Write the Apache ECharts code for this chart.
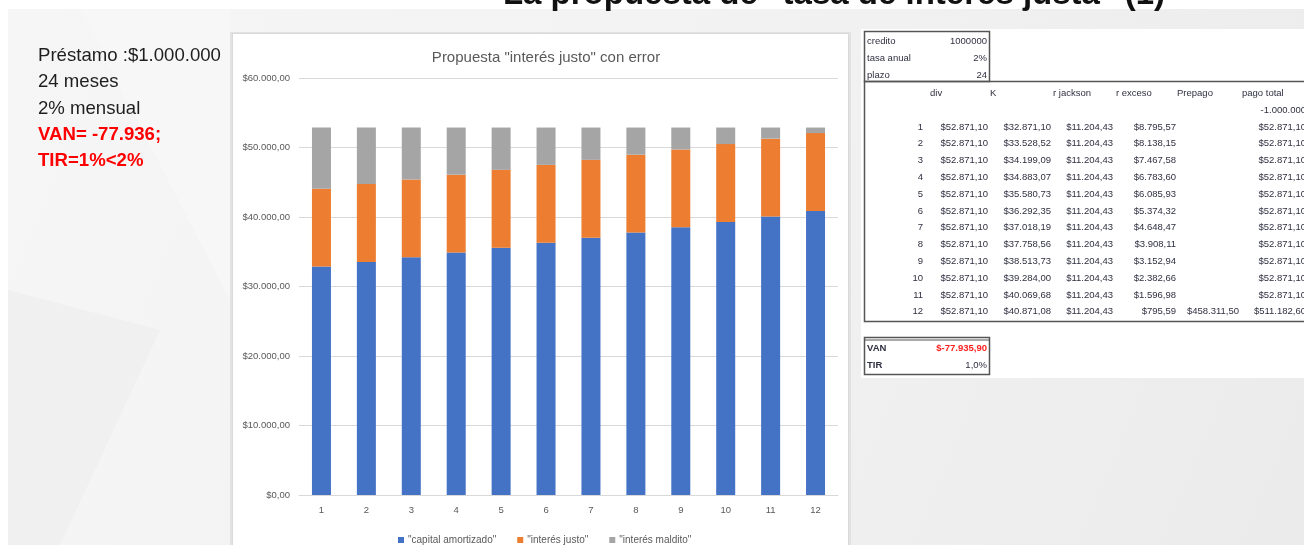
<!DOCTYPE html>
<html><head><meta charset="utf-8">
<script src="https://cdn.jsdelivr.net/npm/echarts@6/dist/echarts.min.js"></script>
<style>html,body{margin:0;padding:0;background:#f2f2f2;}#c{width:1304px;height:545px;}</style>
</head><body><div id="c"></div>
<script>
// ---- data ----
const categories = ['1','2','3','4','5','6','7','8','9','10','11','12'];
const capitalAmortizado = [32871.10, 33528.52, 34199.09, 34883.07, 35580.73, 36292.35, 37018.19, 37758.56, 38513.73, 39284.00, 40069.68, 40871.08];
const interesJusto = [11204.43, 11204.43, 11204.43, 11204.43, 11204.43, 11204.43, 11204.43, 11204.43, 11204.43, 11204.43, 11204.43, 11204.43];
const interesMaldito = [8795.57, 8138.15, 7467.58, 6783.60, 6085.93, 5374.32, 4648.47, 3908.11, 3152.94, 2382.66, 1596.98, 795.59];
const seriesNames = ['"capital amortizado"', '"interés justo"', '"interés maldito"'];
const divCol = [52871.10, 52871.10, 52871.10, 52871.10, 52871.10, 52871.10, 52871.10, 52871.10, 52871.10, 52871.10, 52871.10, 52871.10];
const prepagoCol = [null, null, null, null, null, null, null, null, null, null, null, 458311.50];
const pagoTotalCol = [52871.10, 52871.10, 52871.10, 52871.10, 52871.10, 52871.10, 52871.10, 52871.10, 52871.10, 52871.10, 52871.10, 511182.60];
const tableHeaders = ['div', 'K', 'r jackson', 'r exceso', 'Prepago', 'pago total'];
const paramRows = [['credito', '1000000'], ['tasa anual', '2%'], ['plazo', '24']];
const resultRows = [['VAN', '$-77.935,90'], ['TIR', '1,0%']];
const leftLines = ['Préstamo :$1.000.000', '24 meses', '2% mensual', 'VAN= -77.936;', 'TIR=1%<2%'];
const slideTitle = 'La propuesta de "tasa de interés justa" (1)';
const chartTitle = 'Propuesta "interés justo" con error';

function fmt(n) {
  const neg = n < 0; n = Math.abs(n);
  let [i, d] = n.toFixed(2).split('.');
  i = i.replace(/\B(?=(\d{3})+(?!\d))/g, '.');
  return (neg ? '-' : '') + '$' + i + ',' + d;
}

const chart = echarts.init(document.getElementById('c'), null, {renderer: 'canvas'});
const g = [];
// slide background
g.push({type: 'rect', z: -10, shape: {x: 0, y: 0, width: 1304, height: 545},
  style: {fill: new echarts.graphic.LinearGradient(0, 0, 1, 1, [{offset: 0, color: '#f6f6f6'}, {offset: 0.5, color: '#f2f2f2'}, {offset: 1, color: '#ebebeb'}])}});
g.push({type: 'polygon', z: -9, shape: {points: [[8, 290], [160, 330], [60, 545], [8, 545]]}, style: {fill: '#f0f0f0'}});
g.push({type: 'polygon', z: -9, shape: {points: [[80, 10], [230, 10], [230, 300]]}, style: {fill: '#f7f7f7'}});
g.push({type: 'rect', z: -9, shape: {x: 0, y: 0, width: 1304, height: 9}, style: {fill: '#ffffff'}});
g.push({type: 'rect', z: -9, shape: {x: 0, y: 0, width: 8, height: 545}, style: {fill: '#ffffff'}});
g.push({type: 'text', z: 5, x: 834, y: -5, style: {text: slideTitle, font: 'bold 33px "Liberation Sans", Arial, sans-serif', fill: '#111', align: 'center', verticalAlign: 'middle'}});
// left text
leftLines.forEach((t, i) => {
  const red = i >= 3;
  g.push({type: 'text', x: 38, y: 56 + i * 26.3, style: {text: t, font: (red ? 'bold ' : '') + '18.6px "Liberation Sans", Arial, sans-serif', fill: red ? '#ff0000' : '#1e1e1e', verticalAlign: 'middle'}});
});
// chart panel
g.push({type: 'rect', z: -6, shape: {x: 230, y: 32, width: 621, height: 520}, style: {fill: '#e2e2e2'}});
g.push({type: 'rect', z: -5, shape: {x: 232.5, y: 33.5, width: 616, height: 520}, style: {fill: '#ffffff', stroke: '#d9d9d9', lineWidth: 1}});
// table panel
g.push({type: 'rect', z: -5, shape: {x: 861, y: 29, width: 450, height: 349}, style: {fill: '#ffffff'}});
const tFont = '9.5px "Liberation Sans", Arial, sans-serif';
const tColor = '#2f3040';
g.push({type: 'rect', shape: {x: 864.5, y: 31.5, width: 125, height: 50}, style: {fill: 'none', stroke: '#555', lineWidth: 1.5}});
g.push({type: 'rect', shape: {x: 864.5, y: 81.5, width: 450, height: 240}, style: {fill: 'none', stroke: '#555', lineWidth: 1.5}});
paramRows.forEach((r, i) => {
  const y = 41 + i * 17;
  g.push({type: 'text', x: 867, y: y, style: {text: r[0], font: tFont, fill: tColor, verticalAlign: 'middle'}});
  g.push({type: 'text', x: 987, y: y, style: {text: r[1], font: tFont, fill: tColor, align: 'right', verticalAlign: 'middle'}});
});
const headerX = [930, 990, 1053, 1116, 1177, 1242];
tableHeaders.forEach((h, i) => {
  g.push({type: 'text', x: headerX[i], y: 93, style: {text: h, font: tFont, fill: tColor, verticalAlign: 'middle'}});
});
g.push({type: 'text', x: 1306, y: 110, style: {text: '-1.000.000', font: tFont, fill: tColor, align: 'right', verticalAlign: 'middle'}});
const colRight = [923, 988, 1051, 1113, 1176, 1239, 1306];
categories.forEach((c, i) => {
  const y = 127 + i * 16.8;
  const cells = [c, fmt(divCol[i]), fmt(capitalAmortizado[i]), fmt(interesJusto[i]), fmt(interesMaldito[i]),
    prepagoCol[i] == null ? '' : fmt(prepagoCol[i]), fmt(pagoTotalCol[i])];
  cells.forEach((t, j) => {
    if (!t) return;
    g.push({type: 'text', x: colRight[j], y: y, style: {text: t, font: tFont, fill: tColor, align: 'right', verticalAlign: 'middle'}});
  });
});
g.push({type: 'rect', shape: {x: 864.5, y: 337.5, width: 125, height: 37}, style: {fill: 'none', stroke: '#555', lineWidth: 1.5}});
g.push({type: 'line', shape: {x1: 864.5, y1: 340, x2: 989.5, y2: 340}, style: {stroke: '#555', lineWidth: 1}});
resultRows.forEach((r, i) => {
  const y = 348 + i * 17;
  g.push({type: 'text', x: 867, y: y, style: {text: r[0], font: 'bold ' + tFont, fill: tColor, verticalAlign: 'middle'}});
  g.push({type: 'text', x: 987, y: y, style: {text: r[1], font: (i === 0 ? 'bold ' : '') + tFont, fill: i === 0 ? '#ff2020' : tColor, align: 'right', verticalAlign: 'middle'}});
});

const axisFont = '"Liberation Sans", Arial, sans-serif';
const option = {
  animation: false,
  title: {text: chartTitle, left: 541, top: 45, textAlign: 'center',
    textStyle: {fontSize: 15, fontWeight: 'normal', color: '#595959', fontFamily: axisFont}},
  legend: {data: seriesNames, left: 393, top: 530, itemWidth: 6, itemHeight: 6, itemGap: 21, icon: 'rect',
    textStyle: {fontSize: 10, color: '#595959', fontFamily: axisFont, padding: [0, 0, 0, -1]}},
  grid: {left: 299, right: 466, top: 78, bottom: 50, containLabel: false},
  xAxis: {type: 'category', data: categories,
    axisLine: {lineStyle: {color: '#d9d9d9'}}, axisTick: {show: false},
    axisLabel: {color: '#595959', fontSize: 9.5, margin: 10, fontFamily: axisFont}},
  yAxis: {type: 'value', min: 0, max: 60000, interval: 10000,
    axisLine: {show: false}, axisTick: {show: false},
    splitLine: {lineStyle: {color: '#d9d9d9'}},
    axisLabel: {color: '#595959', fontSize: 9.5, margin: 9, fontFamily: axisFont, formatter: v => fmt(v)}},
  series: [
    {name: seriesNames[0], type: 'bar', stack: 'total', barWidth: 19, data: capitalAmortizado, itemStyle: {color: '#4472C4'}},
    {name: seriesNames[1], type: 'bar', stack: 'total', barWidth: 19, data: interesJusto, itemStyle: {color: '#ED7D31'}},
    {name: seriesNames[2], type: 'bar', stack: 'total', barWidth: 19, data: interesMaldito, itemStyle: {color: '#A5A5A5'}}
  ],
  graphic: g
};
chart.setOption(option);
</script></body></html>
